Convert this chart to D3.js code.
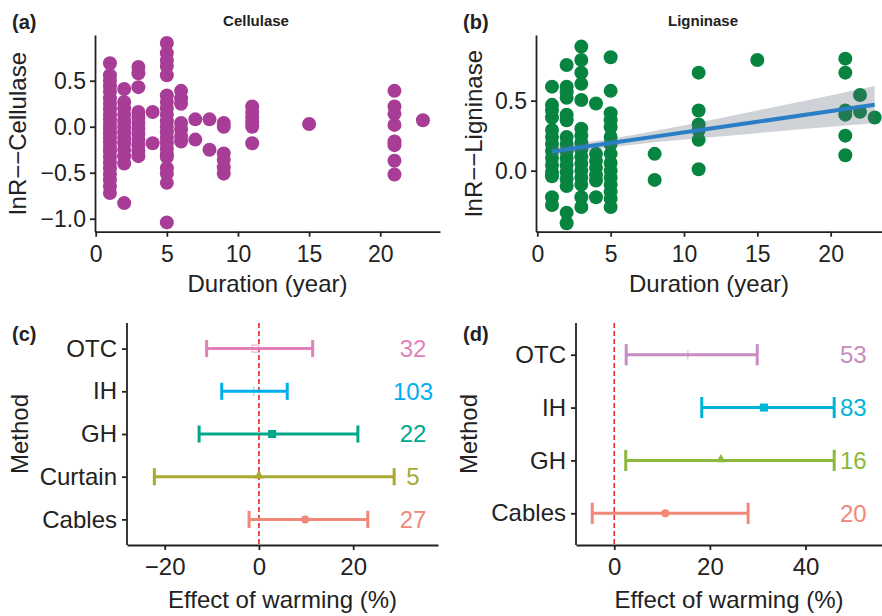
<!DOCTYPE html>
<html>
<head>
<meta charset="utf-8">
<script src="https://cdn.jsdelivr.net/npm/d3@7"></script>
<style>
  body { margin: 0; background: #fff; }
  svg { font-family: "Liberation Sans", Arial, sans-serif; }
  .axis path, .axis line { stroke: #222; stroke-width: 1.8px; }
  .axis text { fill: #222; }
</style>
</head>
<body>
<div id="chart-area"></div>
<script>
// ---- data ----
// [duration (year), lnR]
var cellulasePoints = [
  [1,0.69],[1,0.56],[1,0.5],[1,0.44],[1,0.38],[1,0.31],[1,0.25],[1,0.19],[1,0.13],[1,0.08],[1,0.03],[1,-0.02],
  [1,-0.07],[1,-0.12],[1,-0.17],[1,-0.22],[1,-0.27],[1,-0.33],[1,-0.39],[1,-0.45],[1,-0.52],[1,-0.58],[1,-0.65],[1,-0.72],
  [2,0.41],[2,0.27],[2,0.2],[2,0.13],[2,0.06],[2,0.0],[2,-0.06],[2,-0.12],[2,-0.18],[2,-0.25],[2,-0.32],[2,-0.4],[2,-0.83],
  [3,0.65],[3,0.58],[3,0.43],[3,0.16],[3,0.1],[3,0.04],[3,-0.02],[3,-0.08],[3,-0.14],[3,-0.2],[3,-0.26],[3,-0.32],
  [4,0.16],[4,-0.18],
  [5,0.91],[5,0.8],[5,0.72],[5,0.66],[5,0.56],[5,0.34],[5,0.27],[5,0.2],[5,0.13],[5,0.06],[5,0.0],[5,-0.06],
  [5,-0.12],[5,-0.18],[5,-0.24],[5,-0.3],[5,-0.33],[5,-0.45],[5,-0.51],[5,-0.61],[5,-1.04],
  [6,0.39],[6,0.31],[6,0.25],[6,0.04],[6,-0.03],[6,-0.1],[6,-0.16],
  [7,0.08],[7,-0.14],
  [8,0.08],[8,-0.25],
  [9,0.04],[9,0.0],[9,-0.29],[9,-0.36],[9,-0.44],[9,-0.51],
  [11,0.22],[11,0.16],[11,0.1],[11,0.05],[11,0.0],[11,-0.18],
  [15,0.03],
  [21,0.39],[21,0.22],[21,0.14],[21,0.02],[21,-0.16],[21,-0.2],[21,-0.37],[21,-0.52],
  [23,0.07]
];

var ligninasePoints = [
  [1,0.6],[1,0.47],[1,0.43],[1,0.38],[1,0.29],[1,0.24],[1,0.19],[1,0.14],[1,0.09],[1,0.04],[1,-0.01],[1,-0.04],[1,-0.19],[1,-0.245],
  [2,0.755],[2,0.6],[2,0.56],[2,0.52],[2,0.4],[2,0.36],[2,0.24],[2,0.19],[2,0.14],[2,0.09],[2,0.04],[2,-0.01],[2,-0.06],[2,-0.11],[2,-0.3],[2,-0.376],
  [3,0.886],[3,0.79],[3,0.7],[3,0.62],[3,0.505],[3,0.3],[3,0.25],[3,0.2],[3,0.15],[3,0.1],[3,0.05],[3,0.0],[3,-0.05],[3,-0.1],[3,-0.19],[3,-0.26],
  [4,0.48],[4,0.12],[4,0.07],[4,0.02],[4,-0.03],[4,-0.07],[4,-0.19],
  [5,0.81],[5,0.57],[5,0.41],[5,0.36],[5,0.31],[5,0.24],[5,0.19],[5,0.12],[5,0.055],[5,0.0],[5,-0.05],[5,-0.1],[5,-0.15],[5,-0.2],[5,-0.26],
  [8,0.12],[8,-0.066],
  [11,0.7],[11,0.43],[11,0.33],[11,0.29],[11,0.22],[11,0.01],
  [15,0.79],
  [21,0.8],[21,0.7],[21,0.43],[21,0.4],[21,0.25],[21,0.11],
  [22,0.54],[22,0.42],
  [23,0.38]
];

// fitted line and its confidence band (ligninase)
var fitDuration = [1, 3, 5, 8, 11, 15, 19, 23];
var fitValue    = [0.136, 0.167, 0.197, 0.243, 0.288, 0.349, 0.410, 0.471];
var fitLower    = [0.100, 0.136, 0.166, 0.203, 0.232, 0.268, 0.304, 0.338];
var fitUpper    = [0.172, 0.198, 0.228, 0.283, 0.344, 0.430, 0.516, 0.604];

// effect of warming by method
var methodsC = ["OTC", "IH", "GH", "Curtain", "Cables"];
var meanC    = [-0.7, -1.1, 2.8, 0.0, 9.8];
var lowC     = [-11.1, -7.9, -12.7, -22.2, -2.1];
var highC    = [11.4, 6.0, 21.0, 28.7, 23.1];
var countC   = [32, 103, 22, 5, 27];

var methodsD = ["OTC", "IH", "GH", "Cables"];
var meanD    = [15.4, 31.3, 22.3, 10.7];
var lowD     = [2.5, 18.3, 2.4, -4.6];
var highD    = [29.9, 46.0, 46.0, 28.0];
var countD   = [53, 83, 16, 20];

var colorsC  = ["#e37fb9", "#00aeef", "#00a88a", "#a9a934", "#f08878"];
var shapesC  = ["opensquare", "plus", "square", "triangle", "circle"];
var colorsD  = ["#c78cc2", "#00b4d8", "#8cb93c", "#f08878"];
var shapesD  = ["plus", "square", "triangle", "circle"];

var svg = d3.select("#chart-area")
  .append("svg")
  .attr("width", 882)
  .attr("height", 616);

function label(x, y, txt, size, bold, anchor) {
  return svg.append("text")
    .attr("x", x).attr("y", y)
    .attr("font-size", size + "px")
    .attr("font-weight", bold ? "bold" : "normal")
    .attr("text-anchor", anchor || "start")
    .attr("fill", "#222")
    .text(txt);
}

function yTitle(x, y, txt) {
  svg.append("text")
    .attr("transform", "translate(" + x + "," + y + ") rotate(-90)")
    .attr("font-size", "24px")
    .attr("text-anchor", "middle")
    .attr("fill", "#222")
    .text(txt);
}

// ---- scatter panels ----
function scatter(points, xr, yDomain, yTicks, color, title, titleX, letter, yLab, yLabX) {
  var x = d3.scaleLinear().domain(xr.domain).range(xr.range);
  var y = d3.scaleLinear().domain(yDomain).range([231.7, 35]);
  var g = svg.append("g");

  g.selectAll("circle")
    .data(points)
    .enter()
    .append("circle")
    .attr("cx", function (d) { return x(d[0]); })
    .attr("cy", function (d) { return y(d[1]); })
    .attr("r", 7)
    .attr("fill", color);

  var xAxis = g.append("g")
    .attr("class", "axis")
    .attr("transform", "translate(0,231.7)")
    .call(d3.axisBottom(x).tickValues([0, 5, 10, 15, 20]).tickSize(5).tickSizeOuter(0).tickPadding(9));
  xAxis.selectAll("text").attr("font-size", "23px");

  var yAxis = g.append("g")
    .attr("class", "axis")
    .attr("transform", "translate(" + xr.range[0] + ",0)")
    .call(d3.axisLeft(y).tickValues(yTicks).tickFormat(d3.format(".1f")).tickSize(5).tickSizeOuter(0).tickPadding(4));
  yAxis.selectAll("text").attr("font-size", "23px");

  label(titleX, 26, title, 15, true, "middle");
  label(letter.x, 29, letter.t, 20, true);
  label((xr.range[0] + xr.range[1]) / 2, 291.7, "Duration (year)", 24, false, "middle");
  yTitle(yLabX, 133.4, yLab);
  return { x: x, y: y, g: g };
}

scatter(cellulasePoints, { domain: [-0.05, 24.2], range: [95, 440] }, [-1.141, 0.997],
  [-1.0, -0.5, 0.0, 0.5], "#a73d96", "Cellulase", 256, { x: 12, t: "(a)" }, "lnR\u2212\u2212Cellulase", 26);

var lig = scatter(ligninasePoints, { domain: [-0.09, 23.5], range: [536, 882] }, [-0.436, 0.969],
  [0.0, 0.5], "#068440", "Ligninase", 703, { x: 463, t: "(b)" }, "lnR\u2212\u2212Ligninase", 482);

var fit = fitDuration.map(function (d, i) {
  return { x: d, v: fitValue[i], lo: fitLower[i], hi: fitUpper[i] };
});

lig.g.append("path")
  .datum(fit)
  .attr("fill", "#5f6b7a")
  .attr("fill-opacity", 0.3)
  .attr("d", d3.area()
    .x(function (d) { return lig.x(d.x); })
    .y0(function (d) { return lig.y(d.lo); })
    .y1(function (d) { return lig.y(d.hi); })
    .curve(d3.curveMonotoneX));

lig.g.append("path")
  .datum(fit)
  .attr("fill", "none")
  .attr("stroke", "#2a7ec6")
  .attr("stroke-width", 4)
  .attr("d", d3.line()
    .x(function (d) { return lig.x(d.x); })
    .y(function (d) { return lig.y(d.v); }));

// ---- forest panels ----
function forest(methods, mean, low, high, count, colors, shapes, xDomain, xRange, xTicks, countX, letter) {
  var x = d3.scaleLinear().domain(xDomain).range(xRange);
  var y = d3.scalePoint().domain(methods).range([323, 545]).padding(0.6);
  var g = svg.append("g");
  var cap = y.step() * 0.4;

  g.append("line")
    .attr("x1", x(0)).attr("x2", x(0))
    .attr("y1", 323).attr("y2", 545)
    .attr("stroke", "#e5262b")
    .attr("stroke-width", 1.6)
    .attr("stroke-dasharray", "5,3");

  var rows = methods.map(function (m, i) {
    return { m: m, mean: mean[i], lo: low[i], hi: high[i], n: count[i], c: colors[i], s: shapes[i] };
  });

  var row = g.selectAll(".row")
    .data(rows)
    .enter()
    .append("g")
    .attr("transform", function (d) { return "translate(0," + y(d.m) + ")"; });

  row.append("line")
    .attr("x1", function (d) { return x(d.lo); })
    .attr("x2", function (d) { return x(d.hi); })
    .attr("stroke", function (d) { return d.c; })
    .attr("stroke-width", 3);

  row.append("line")
    .attr("x1", function (d) { return x(d.lo); })
    .attr("x2", function (d) { return x(d.lo); })
    .attr("y1", -cap / 2).attr("y2", cap / 2)
    .attr("stroke", function (d) { return d.c; })
    .attr("stroke-width", 3);

  row.append("line")
    .attr("x1", function (d) { return x(d.hi); })
    .attr("x2", function (d) { return x(d.hi); })
    .attr("y1", -cap / 2).attr("y2", cap / 2)
    .attr("stroke", function (d) { return d.c; })
    .attr("stroke-width", 3);

  row.each(function (d) {
    var r = d3.select(this);
    var cx = x(d.mean);
    if (d.s === "circle") {
      r.append("circle").attr("cx", cx).attr("r", 4).attr("fill", d.c);
    } else if (d.s === "square") {
      r.append("rect").attr("x", cx - 4).attr("y", -4).attr("width", 8).attr("height", 8).attr("fill", d.c);
    } else if (d.s === "opensquare") {
      r.append("rect").attr("x", cx - 3.5).attr("y", -3.5).attr("width", 7).attr("height", 7)
        .attr("fill", "none").attr("stroke", d.c).attr("stroke-opacity", 0.6).attr("stroke-width", 1.2);
    } else if (d.s === "triangle") {
      r.append("path").attr("transform", "translate(" + cx + ",-1)")
        .attr("d", d3.symbol(d3.symbolTriangle, 40)()).attr("fill", d.c);
    } else if (d.s === "plus") {
      r.append("line").attr("x1", cx).attr("x2", cx).attr("y1", -5).attr("y2", 5)
        .attr("stroke", d.c).attr("stroke-opacity", 0.5).attr("stroke-width", 1.2);
    }
  });

  row.append("text")
    .attr("x", x(countX))
    .attr("dy", "0.35em")
    .attr("text-anchor", "middle")
    .attr("font-size", "24px")
    .attr("fill", function (d) { return d.c; })
    .text(function (d) { return d.n; });

  var xAxis = g.append("g")
    .attr("class", "axis")
    .attr("transform", "translate(0,545)")
    .call(d3.axisBottom(x).tickValues(xTicks).tickSize(5).tickSizeOuter(0).tickPadding(8));
  xAxis.selectAll("text").attr("font-size", "24px");

  var yAxis = g.append("g")
    .attr("class", "axis")
    .attr("transform", "translate(" + xRange[0] + ",0)")
    .call(d3.axisLeft(y).tickSize(5).tickSizeOuter(0).tickPadding(5));
  yAxis.select(".domain").attr("d", "M-0,323V545");
  yAxis.selectAll("text").attr("font-size", "24px");

  label((xRange[0] + xRange[1]) / 2, 608, "Effect of warming (%)", 24, false, "middle");
  yTitle(xRange[0] - 99, 434, "Method");
  label(letter.x, 341, letter.t, 20, true);
}

forest(methodsC, meanC, lowC, highC, countC, colorsC, shapesC, [-28, 38], [127, 438], [-20, 0, 20], 32.7, { x: 12, t: "(c)" });
forest(methodsD, meanD, lowD, highD, countD, colorsD, shapesD, [-8, 56], [576, 882], [0, 20, 40], 50.0, { x: 463, t: "(d)" });
</script>
</body>
</body>
</html>
